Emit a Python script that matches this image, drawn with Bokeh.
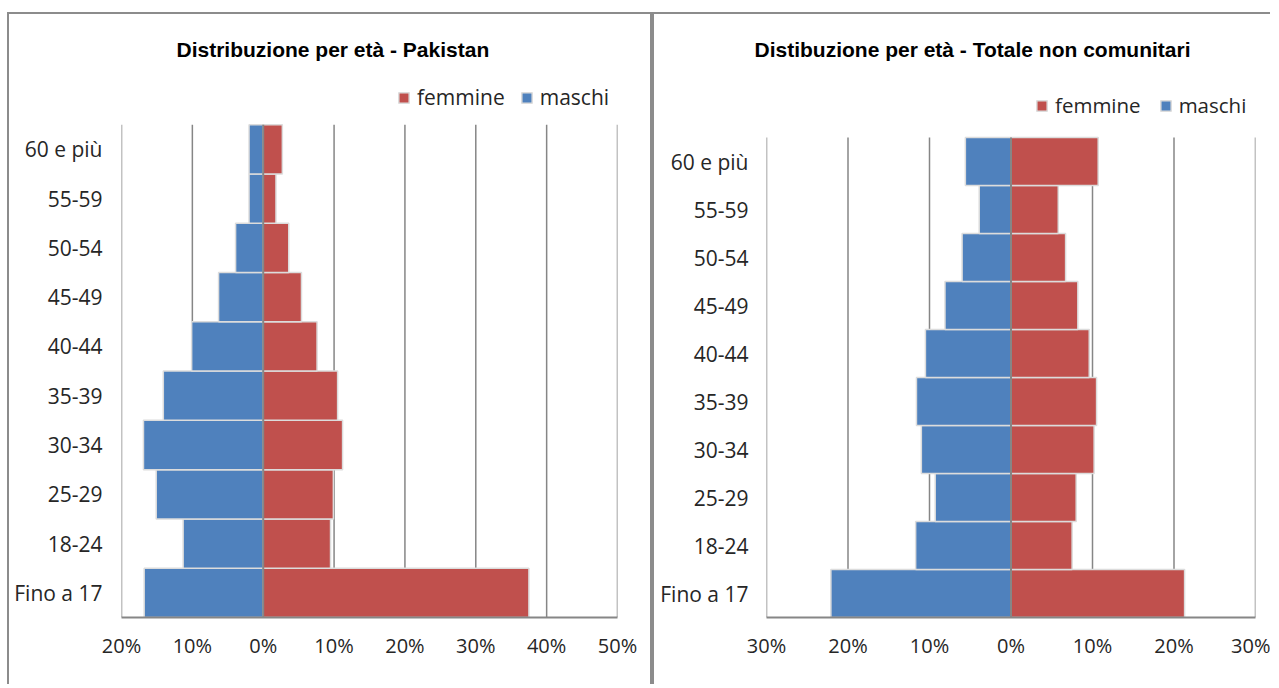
from bokeh.plotting import figure
from bokeh.models import Range1d, FixedTicker, Legend, LegendItem, Title
from bokeh.layouts import row
from bokeh.embed import file_html
from bokeh.resources import INLINE

categories = ["Fino a 17", "18-24", "25-29", "30-34", "35-39",
              "40-44", "45-49", "50-54", "55-59", "60 e più"]
pak_maschi = [16.8, 11.3, 15.1, 16.9, 14.1, 10.1, 6.3, 3.9, 2.0, 2.0]
pak_femmine = [37.5, 9.5, 9.9, 11.2, 10.5, 7.6, 5.4, 3.6, 1.8, 2.7]
tot_maschi = [22.1, 11.7, 9.3, 11.0, 11.6, 10.5, 8.1, 6.0, 3.9, 5.6]
tot_femmine = [21.3, 7.5, 8.0, 10.2, 10.5, 9.6, 8.2, 6.7, 5.8, 10.7]
pak_ticks = [-20, -10, 0, 10, 20, 30, 40, 50]
tot_ticks = [-30, -20, -10, 0, 10, 20, 30]

RED = "#C0504D"
BLUE = "#4F81BD"
GRID = "#868686"
FONT = "Open Sans"
BORDER = "2px solid #8c8c8c"


def make(title, maschi, femmine, ticks, width, mb_left, mb_right, y_top,
         title_offset, legend_loc, margin, ylab_size, ylab_standoff, leg_size,
         leg_spacing, borders):
    pos = list(range(len(categories)))
    p = figure(width=width, height=672, output_backend="svg", toolbar_location=None,
               x_range=Range1d(ticks[0], ticks[-1]),
               y_range=Range1d(-0.5, y_top),
               min_border_left=mb_left, min_border_right=mb_right,
               min_border_top=51, min_border_bottom=69,
               styles=borders)
    p.margin = margin
    p.outline_line_color = None
    p.xgrid.grid_line_color = None
    p.ygrid.grid_line_color = None

    lo = pos[0] - 0.5
    hi = pos[-1] + 0.5
    # vertical gridlines, only over the category band
    p.segment(x0=ticks, x1=ticks, y0=[lo] * len(ticks), y1=[hi] * len(ticks),
              line_color=GRID, line_width=1.5)

    neg_m = [-v for v in maschi]
    rf = p.hbar(y=pos, left=0, right=femmine, height=1.0, fill_color=RED,
                line_color="#dcdcdc", line_width=1.5)
    rm = p.hbar(y=pos, left=neg_m, right=0, height=1.0, fill_color=BLUE,
                line_color="#dcdcdc", line_width=1.5)
    # vertical axis line at 0
    p.segment(x0=[0], x1=[0], y0=[lo], y1=[hi], line_color=GRID, line_width=2)

    p.xaxis.ticker = FixedTicker(ticks=ticks)
    p.xaxis.major_label_overrides = {t: f"{abs(t)}%" for t in ticks}
    p.xaxis.axis_line_color = GRID
    p.xaxis.axis_line_width = 2
    p.xaxis.major_tick_line_color = None
    p.xaxis.minor_tick_line_color = None
    p.xaxis.major_tick_out = 0
    p.xaxis.major_tick_in = 0
    p.xaxis.minor_tick_out = 0
    p.xaxis.major_label_standoff = 14
    p.xaxis.major_label_text_font = FONT
    p.xaxis.major_label_text_font_size = "20px"
    p.xaxis.major_label_text_color = "#262626"

    p.yaxis.ticker = FixedTicker(ticks=pos)
    p.yaxis.major_label_overrides = {i: c for i, c in zip(pos, categories)}
    p.yaxis.axis_line_color = None
    p.yaxis.major_tick_line_color = None
    p.yaxis.minor_tick_line_color = None
    p.yaxis.major_tick_out = 0
    p.yaxis.major_tick_in = 0
    p.yaxis.minor_tick_out = 0
    p.yaxis.major_label_standoff = ylab_standoff
    p.yaxis.major_label_text_font = FONT
    p.yaxis.major_label_text_font_size = ylab_size
    p.yaxis.major_label_text_color = "#262626"

    legend = Legend(items=[LegendItem(label="femmine", renderers=[rf]),
                           LegendItem(label="maschi", renderers=[rm])],
                    orientation="horizontal", location=legend_loc,
                    border_line_color=None, background_fill_alpha=0,
                    glyph_width=13, glyph_height=13, label_standoff=7,
                    spacing=leg_spacing, padding=0, margin=0,
                    label_text_font=FONT, label_text_font_size=leg_size,
                    label_text_color="#262626")
    p.add_layout(legend, "center")
    p.title = Title(text=title, align="left", offset=title_offset,
                    text_font="Liberation Sans", text_font_style="bold",
                    text_font_size="21px", text_color="#000000")
    return p


p1 = make("Distribuzione per età - Pakistan", pak_maschi, pak_femmine, pak_ticks,
          645, 112, 37, 10.70, 55, (276, 506), (12, 0, 0, 7), "21px", 19, "21px", 15,
          {"border-top": BORDER, "border-left": BORDER, "border-right": BORDER})
p2 = make("Distibuzione per età - Totale non comunitari", tot_maschi, tot_femmine, tot_ticks,
          618, 112, 17, 11.0, -12, (269, 498), (12, 0, 0, 0), "21px", 18, "20.5px", 18,
          {"border-top": BORDER, "border-left": BORDER})
layout = row(p1, p2)

open("out.html", "w").write(file_html(layout, INLINE))
